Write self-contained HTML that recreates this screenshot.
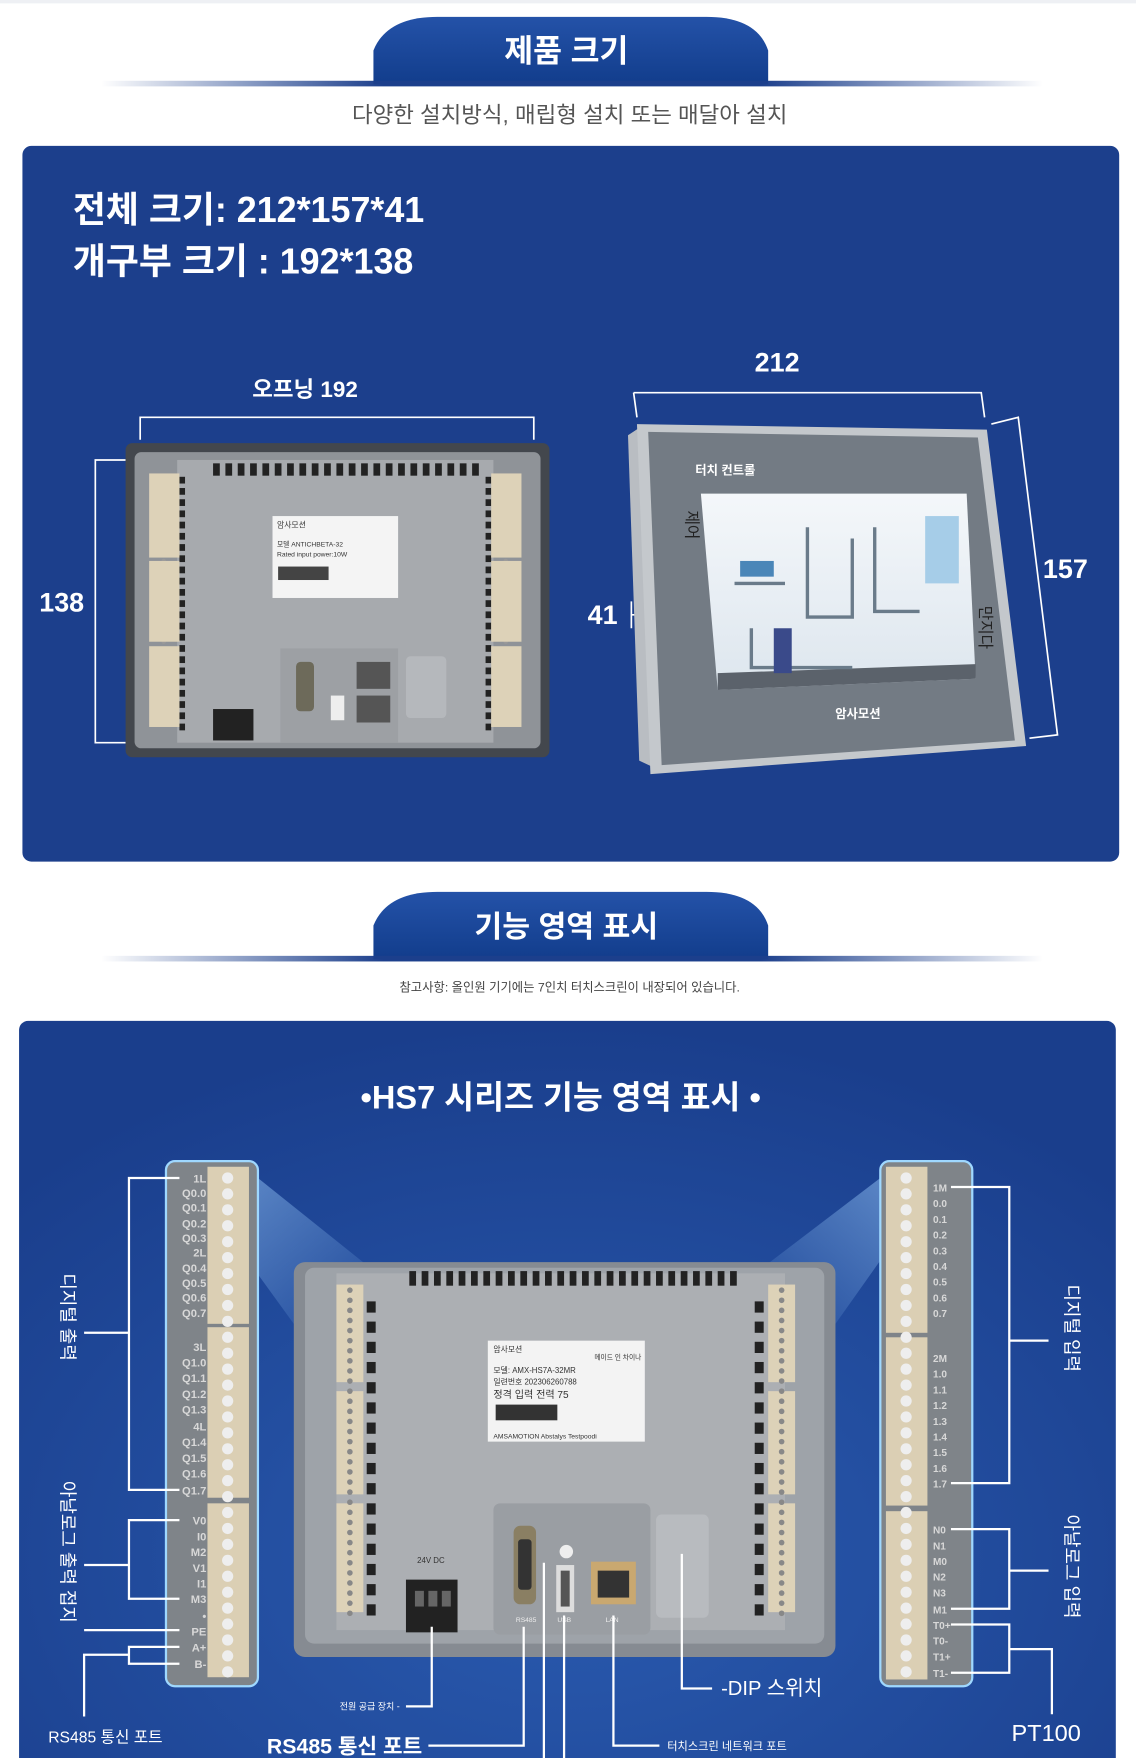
<!DOCTYPE html>
<html><head><meta charset="utf-8">
<style>
html,body{margin:0;padding:0;background:#fff;}
svg{display:block;}
text{font-family:"Liberation Sans","Noto Sans CJK KR",sans-serif;}
</style></head>
<body>
<svg id="s" width="1136" height="1758" viewBox="0 0 1013 1567" preserveAspectRatio="none" xmlns="http://www.w3.org/2000/svg">
<defs>
<linearGradient id="ln" x1="0" x2="1"><stop offset="0" stop-color="#1c3f8c" stop-opacity="0"/><stop offset="0.3" stop-color="#1c3f8c"/><stop offset="0.7" stop-color="#1c3f8c"/><stop offset="1" stop-color="#1c3f8c" stop-opacity="0"/></linearGradient>
<linearGradient id="pill" x1="0" y1="0" x2="0" y2="1"><stop offset="0" stop-color="#2452a8"/><stop offset="1" stop-color="#123d8c"/></linearGradient>
<radialGradient id="bg2" cx="0.5" cy="0.7" r="0.7"><stop offset="0" stop-color="#2a5bb0"/><stop offset="1" stop-color="#1a3e8c"/></radialGradient>
<linearGradient id="glowL" x1="0" y1="0" x2="1" y2="1"><stop offset="0" stop-color="#9fd0ff" stop-opacity="0.55"/><stop offset="1" stop-color="#9fd0ff" stop-opacity="0"/></linearGradient>
<linearGradient id="glowR" x1="1" y1="0" x2="0" y2="1"><stop offset="0" stop-color="#9fd0ff" stop-opacity="0.55"/><stop offset="1" stop-color="#9fd0ff" stop-opacity="0"/></linearGradient>
<linearGradient id="scr" x1="0" y1="0" x2="0" y2="1"><stop offset="0" stop-color="#f4f7fa"/><stop offset="1" stop-color="#dde6ee"/></linearGradient>
</defs>
<rect x="0" y="0" width="1020" height="3" fill="#eef0f4"/>
<path d="M333 75 L333 45 Q345 15 390 15 L630 15 Q675 15 685 45 L685 75 Z" fill="url(#pill)"/>
<rect x="90" y="72" width="840" height="5" fill="url(#ln)"/>
<text x="505" y="55" font-size="28" font-weight="bold" fill="#fff" text-anchor="middle">제품 크기</text>
<text x="508" y="109" font-size="20" fill="#555" text-anchor="middle">다양한 설치방식, 매립형 설치 또는 매달아 설치</text>
<rect x="20" y="130" width="978" height="638" rx="8" fill="#1c3f8c"/>
<text x="65" y="198" font-size="32" font-weight="bold" fill="#fff">전체 크기: 212*157*41</text>
<text x="65" y="244" font-size="32" font-weight="bold" fill="#fff">개구부 크기 : 192*138</text>
<text x="225" y="354" font-size="20" font-weight="bold" fill="#fff">오프닝 192</text>
<path d="M125 392 V372 H476 V392" stroke="#fff" stroke-width="1.5" fill="none"/>
<path d="M112 410 H85 V662 H112" stroke="#fff" stroke-width="1.5" fill="none"/>
<text x="35" y="545" font-size="24" font-weight="bold" fill="#fff">138</text>
<rect x="112" y="395" width="378" height="280" rx="6" fill="#43474d"/>
<rect x="120" y="403" width="362" height="264" rx="6" fill="#8f9398"/>
<rect x="158" y="410" width="282" height="252" fill="#a7aaae"/>
<g id="vents1"></g>
<rect x="133" y="422" width="27" height="75" fill="#ddd2b8"/><rect x="133" y="500" width="27" height="72" fill="#ddd2b8"/><rect x="133" y="576" width="27" height="72" fill="#ddd2b8"/>
<rect x="438" y="422" width="27" height="75" fill="#ddd2b8"/><rect x="438" y="500" width="27" height="72" fill="#ddd2b8"/><rect x="438" y="576" width="27" height="72" fill="#ddd2b8"/>
<rect x="243" y="460" width="112" height="73" fill="#f4f4f4"/>
<text x="247" y="470" font-size="7" fill="#333">암사모션</text>
<text x="247" y="487" font-size="6" fill="#333">모델 ANTICHBETA-32</text>
<text x="247" y="496" font-size="6" fill="#333">Rated input power:10W</text>
<rect x="248" y="505" width="45" height="12" fill="#444"/>
<rect x="250" y="578" width="105" height="84" fill="#9da0a4"/>
<rect x="190" y="632" width="36" height="28" fill="#222"/>
<rect x="264" y="590" width="16" height="44" rx="4" fill="#6d6a5a"/>
<rect x="295" y="620" width="12" height="22" fill="#eee"/>
<rect x="318" y="590" width="30" height="24" fill="#555"/><rect x="318" y="620" width="30" height="24" fill="#555"/>
<rect x="362" y="585" width="36" height="55" rx="4" fill="#b5b8bc"/>
<path d="M565 350 L568 372 M565 350 H875 L878 372" stroke="#fff" stroke-width="1.5" fill="none"/>
<text x="693" y="331" font-size="24" font-weight="bold" fill="#fff" text-anchor="middle">212</text>
<path d="M884 378 L908 372 L943 655 L918 658" stroke="#fff" stroke-width="1.5" fill="none"/>
<text x="930" y="515" font-size="24" font-weight="bold" fill="#fff">157</text>
<text x="524" y="556" font-size="24" font-weight="bold" fill="#fff">41</text>
<path d="M563 536 V560 M563 548 H578" stroke="#fff" stroke-width="1.5"/>
<path d="M560 388 L572 380 L585 685 L570 678 Z" fill="#b9bdc2"/>
<path d="M568 378 L880 383 L915 665 L580 690 Z" fill="#c4c8cc"/>
<path d="M578 385 L872 390 L905 660 L590 682 Z" fill="#737b84"/>
<path d="M625 440 L862 440 L870 605 L640 615 Z" fill="url(#scr)"/>
<path d="M640 600 L870 592 L870 605 L640 615 Z" fill="#5b626b"/>
<path d="M655 520 H700 M720 470 V550 H760 V480 M780 470 V545 H820 M670 560 V595 H760" stroke="#6a7b8a" stroke-width="3" fill="none"/>
<rect x="660" y="500" width="30" height="14" fill="#4a86b8"/><rect x="690" y="560" width="16" height="40" fill="#3a4a8a"/><rect x="825" y="460" width="30" height="60" fill="#a6cde8"/>
<text x="620" y="423" font-size="11" font-weight="bold" fill="#fff">터치 컨트롤</text>
<text x="765" y="640" font-size="11" font-weight="bold" fill="#fff" text-anchor="middle">암사모션</text>
<text x="612" y="455" font-size="14" fill="#222" transform="rotate(90 612 455)">제어</text>
<text x="874" y="540" font-size="14" fill="#222" transform="rotate(90 874 540)">만지다</text>
<path d="M333 855 L333 825 Q345 795 390 795 L630 795 Q675 795 685 825 L685 855 Z" fill="url(#pill)"/>
<rect x="90" y="852" width="840" height="5" fill="url(#ln)"/>
<text x="505" y="835" font-size="27" font-weight="bold" fill="#fff" text-anchor="middle">기능 영역 표시</text>
<text x="508" y="884" font-size="11" fill="#444" text-anchor="middle">참고사항: 올인원 기기에는 7인치 터치스크린이 내장되어 있습니다.</text>
<rect x="17" y="910" width="978" height="680" rx="8" fill="url(#bg2)"/>
<text x="500" y="988" font-size="29" font-weight="bold" fill="#fff" text-anchor="middle">•HS7 시리즈 기능 영역 표시 •</text>
<path d="M230 1050 L330 1130 L262 1180 L175 1060 Z" fill="url(#glowL)"/>
<path d="M785 1050 L680 1130 L745 1180 L830 1060 Z" fill="url(#glowR)"/>
<rect x="262" y="1125" width="483" height="352" rx="10" fill="#868b92"/>
<rect x="272" y="1130" width="463" height="335" rx="8" fill="#9ea3a9"/>
<rect x="300" y="1135" width="400" height="318" fill="#acafb3"/>
<g id="vents2"></g>
<g id="term2"></g>
<rect x="435" y="1195" width="140" height="90" fill="#f3f3f3"/>
<text x="440" y="1205" font-size="7" fill="#333">암사모션</text>
<text x="530" y="1212" font-size="6" fill="#333">메이드 인 차이나</text>
<text x="440" y="1224" font-size="7" fill="#333">모델: AMX-HS7A-32MR</text>
<text x="440" y="1234" font-size="7" fill="#333">일련번호 202306260788</text>
<text x="440" y="1246" font-size="9" fill="#333">정격 입력 전력 75</text>
<rect x="442" y="1252" width="55" height="14" fill="#333"/>
<text x="440" y="1282" font-size="6" fill="#333">AMSAMOTION Abstalys Testpoodi</text>
<rect x="440" y="1340" width="140" height="117" rx="6" fill="#9a9ea3"/>
<rect x="362" y="1408" width="46" height="47" fill="#222"/>
<rect x="370" y="1418" width="8" height="14" fill="#666"/><rect x="382" y="1418" width="8" height="14" fill="#666"/><rect x="394" y="1418" width="8" height="14" fill="#666"/>
<text x="372" y="1393" font-size="7" fill="#333">24V DC</text>
<rect x="458" y="1360" width="20" height="70" rx="6" fill="#8a7f63"/><rect x="462" y="1372" width="12" height="45" rx="3" fill="#333"/>
<circle cx="505" cy="1383" r="6" fill="#eee"/>
<rect x="496" y="1395" width="16" height="42" fill="#ddd"/><rect x="500" y="1400" width="8" height="32" fill="#555"/>
<rect x="527" y="1392" width="40" height="38" fill="#c9a870"/><rect x="533" y="1400" width="28" height="24" fill="#333"/>
<rect x="585" y="1350" width="47" height="92" rx="5" fill="#b8bbbf"/>
<text x="460" y="1446" font-size="6" fill="#eee">RS485</text><text x="497" y="1446" font-size="6" fill="#eee">USB</text><text x="540" y="1446" font-size="6" fill="#eee">LAN</text>
<rect x="148" y="1035" width="82" height="468" rx="8" fill="#7f8489" stroke="#9fd8ff" stroke-width="2"/>
<rect x="185" y="1040" width="37" height="140" fill="#dbcfb4"/><rect x="185" y="1183" width="37" height="152" fill="#dbcfb4"/><rect x="185" y="1340" width="37" height="155" fill="#dbcfb4"/>
<rect x="785" y="1035" width="82" height="468" rx="8" fill="#7f8489" stroke="#9fd8ff" stroke-width="2"/>
<rect x="790" y="1040" width="37" height="148" fill="#dbcfb4"/><rect x="790" y="1192" width="37" height="150" fill="#dbcfb4"/><rect x="790" y="1347" width="37" height="150" fill="#dbcfb4"/>
<g id="screws"></g>
<g font-size="10" fill="#d8d8d8" font-weight="bold" text-anchor="end">
<text x="184" y="1054">1L</text><text x="184" y="1067">Q0.0</text><text x="184" y="1080">Q0.1</text><text x="184" y="1094">Q0.2</text><text x="184" y="1107">Q0.3</text><text x="184" y="1120">2L</text><text x="184" y="1134">Q0.4</text><text x="184" y="1147">Q0.5</text><text x="184" y="1160">Q0.6</text><text x="184" y="1174">Q0.7</text>
<text x="184" y="1204">3L</text><text x="184" y="1218">Q1.0</text><text x="184" y="1232">Q1.1</text><text x="184" y="1246">Q1.2</text><text x="184" y="1260">Q1.3</text><text x="184" y="1275">4L</text><text x="184" y="1289">Q1.4</text><text x="184" y="1303">Q1.5</text><text x="184" y="1317">Q1.6</text><text x="184" y="1332">Q1.7</text>
<text x="184" y="1359">V0</text><text x="184" y="1373">I0</text><text x="184" y="1387">M2</text><text x="184" y="1401">V1</text><text x="184" y="1415">I1</text><text x="184" y="1429">M3</text><text x="184" y="1444">•</text><text x="184" y="1458">PE</text><text x="184" y="1472">A+</text><text x="184" y="1487">B-</text>
</g>
<g font-size="9" fill="#d8d8d8" font-weight="bold">
<text x="832" y="1062">1M</text><text x="832" y="1076">0.0</text><text x="832" y="1090">0.1</text><text x="832" y="1104">0.2</text><text x="832" y="1118">0.3</text><text x="832" y="1132">0.4</text><text x="832" y="1146">0.5</text><text x="832" y="1160">0.6</text><text x="832" y="1174">0.7</text>
<text x="832" y="1214">2M</text><text x="832" y="1228">1.0</text><text x="832" y="1242">1.1</text><text x="832" y="1256">1.2</text><text x="832" y="1270">1.3</text><text x="832" y="1284">1.4</text><text x="832" y="1298">1.5</text><text x="832" y="1312">1.6</text><text x="832" y="1326">1.7</text>
<text x="832" y="1367">N0</text><text x="832" y="1381">N1</text><text x="832" y="1395">M0</text><text x="832" y="1409">N2</text><text x="832" y="1423">N3</text><text x="832" y="1438">M1</text><text x="832" y="1452">T0+</text><text x="832" y="1466">T0-</text><text x="832" y="1480">T1+</text><text x="832" y="1495">T1-</text>
</g>
<g stroke="#fff" stroke-width="2" fill="none">
<path d="M160 1050 H115 V1328 H160 M115 1188 H75"/>
<path d="M160 1355 H115 V1425 H160 M115 1395 H75"/>
<path d="M75 1453 H160"/>
<path d="M160 1468 H115 V1483 H160 M115 1475 H75 V1530"/>
<path d="M848 1058 H900 V1322 H848 M900 1195 H935"/>
<path d="M848 1363 H900 V1434 H848 M900 1400 H935"/>
<path d="M848 1448 H900 V1491 H848 M900 1470 H938 V1528"/>
<path d="M385 1450 V1521 H362"/>
<path d="M467 1450 V1556 H382"/>
<path d="M485 1393 V1578 M503 1440 V1578"/>
<path d="M547 1440 V1556 H588"/>
<path d="M608 1385 V1505 H635"/>
</g>
<g fill="#fff">
<text x="55" y="1135" font-size="16" transform="rotate(90 55 1135)">디지털 출력</text>
<text x="55" y="1320" font-size="16" transform="rotate(90 55 1320)">아날로그 출력 접지</text>
<text x="950" y="1145" font-size="16" transform="rotate(90 950 1145)">디지털 입력</text>
<text x="950" y="1350" font-size="16" transform="rotate(90 950 1350)">아날로그 입력</text>
<text x="43" y="1553" font-size="14">RS485 통신 포트</text>
<text x="238" y="1563" font-size="19" font-weight="bold">RS485 통신 포트</text>
<text x="303" y="1524" font-size="8">전원 공급 장치 -</text>
<text x="643" y="1511" font-size="18">-DIP 스위치</text>
<text x="595" y="1560" font-size="10">터치스크린 네트워크 포트</text>
<text x="902" y="1552" font-size="21">PT100</text>
</g>
</svg>
<script>
var NS="http://www.w3.org/2000/svg";
function r(g,x,y,w,h,f){var e=document.createElementNS(NS,"rect");e.setAttribute("x",x);e.setAttribute("y",y);e.setAttribute("width",w);e.setAttribute("height",h);e.setAttribute("fill",f);document.getElementById(g).appendChild(e);}
function c(g,x,y,rr,f){var e=document.createElementNS(NS,"circle");e.setAttribute("cx",x);e.setAttribute("cy",y);e.setAttribute("r",rr);e.setAttribute("fill",f);document.getElementById(g).appendChild(e);}
for(var x=190;x<432;x+=11)r("vents1",x,413,6,11,"#222");
for(var y=425;y<650;y+=10){r("vents1",160,y,5,6,"#222");r("vents1",433,y,5,6,"#222");}
for(var x=365;x<662;x+=11)r("vents2",x,1133,6,13,"#222");
for(var y=1160;y<1445;y+=18){r("vents2",327,y,8,10,"#222");r("vents2",673,y,8,10,"#222");}
[[1145,1235],[1240,1335],[1340,1440]].forEach(function(b){r("term2",300,b[0],24,b[1]-b[0]-3,"#ddd2b8");r("term2",685,b[0],24,b[1]-b[0]-3,"#ddd2b8");});
for(var y=1150;y<1440;y+=9){c("term2",312,y,2.5,"#888");c("term2",697,y,2.5,"#888");}
for(var y=1050;y<1492;y+=14.2){c("screws",203,y,5,"#eee");c("screws",808,y,5,"#eee");}
for(var y=428;y<645;y+=8){c("vents1",146,y,2,"#999");c("vents1",451,y,2,"#999");}
</script>
</body></html>
